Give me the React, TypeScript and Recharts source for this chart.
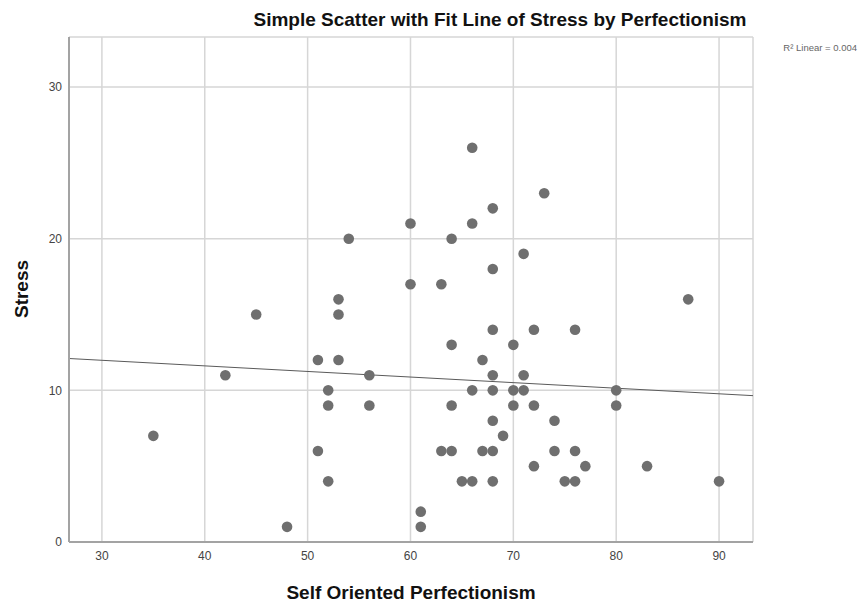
import React from 'react';
import { ScatterChart, Scatter, XAxis, YAxis, CartesianGrid, ReferenceLine } from 'recharts';

const perfectionism = [35, 42, 45, 48, 51, 51, 52, 52, 52, 53, 53, 53, 54, 56, 56, 60, 60, 61, 61, 63, 63, 64, 64, 64, 64, 65, 66, 66, 66, 66, 67, 67, 68, 68, 68, 68, 68, 68, 68, 68, 69, 70, 70, 70, 71, 71, 71, 72, 72, 72, 73, 74, 74, 75, 76, 76, 76, 77, 80, 80, 83, 87, 90];
const stress = [7, 11, 15, 1, 12, 6, 10, 9, 4, 16, 15, 12, 20, 11, 9, 21, 17, 2, 1, 17, 6, 20, 13, 9, 6, 4, 26, 21, 10, 4, 12, 6, 22, 18, 14, 11, 10, 8, 6, 4, 7, 13, 10, 9, 19, 11, 10, 14, 9, 5, 23, 8, 6, 4, 14, 6, 4, 5, 10, 9, 5, 16, 4];

const xTicks = [30, 40, 50, 60, 70, 80, 90];
const yTicks = [0, 10, 20, 30];
const xDomain = [26.8, 93.3];
const yDomain = [0, 33.3];
const fitX = [26.8, 93.3];
const fitY = [12.1, 9.65];

const title = 'Simple Scatter with Fit Line of Stress by Perfectionism';
const xLabel = 'Self Oriented Perfectionism';
const yLabel = 'Stress';
const r2Label = 'R\u00B2 Linear = 0.004';

const data = perfectionism.map((x, i) => ({ x, y: stress[i] }));

const FONT = '"Liberation Sans", Arial, sans-serif';

const Dot = (props: any) => {
  const { cx, cy } = props;
  if (cx == null || cy == null) return null;
  return <circle cx={cx} cy={cy} r={5.3} fill="#6f6f6f" />;
};

export default function App() {
  return (
    <div style={{ position: 'absolute', left: 0, top: 0, width: 859, height: 603, background: '#fff' }}>
      <ScatterChart width={859} height={603} margin={{ top: 37, right: 106, bottom: 0, left: 0 }}>
        <CartesianGrid stroke="#d6d6d6" strokeWidth={1.5} />
        <XAxis
          type="number"
          dataKey="x"
          domain={xDomain}
          ticks={xTicks}
          allowDataOverflow
          height={61}
          tickSize={0}
          tickMargin={9}
          tickLine={false}
          axisLine={{ stroke: '#a3a3a3', strokeWidth: 2 }}
          tick={{ fill: '#444', fontSize: 12, fontFamily: FONT }}
        />
        <YAxis
          type="number"
          dataKey="y"
          domain={yDomain}
          ticks={yTicks}
          allowDataOverflow
          width={69}
          tickSize={0}
          tickMargin={7}
          tickLine={false}
          axisLine={{ stroke: '#a3a3a3', strokeWidth: 2 }}
          tick={{ fill: '#444', fontSize: 12, fontFamily: FONT }}
        />
        <ReferenceLine
          segment={[{ x: fitX[0], y: fitY[0] }, { x: fitX[1], y: fitY[1] }]}
          stroke="#5a5a5a"
          strokeWidth={1}
          ifOverflow="visible"
        />
        <Scatter data={data} shape={Dot} isAnimationActive={false} />
      </ScatterChart>
      <svg width={859} height={603} style={{ position: 'absolute', left: 0, top: 0, pointerEvents: 'none' }}>
        <text x={500} y={26} textAnchor="middle" fontFamily={FONT} fontWeight="bold" fontSize={19} fill="#111">{title}</text>
        <text x={857} y={51} textAnchor="end" fontFamily={FONT} fontSize={9.5} fill="#666">{r2Label}</text>
        <text x={411} y={599} textAnchor="middle" fontFamily={FONT} fontWeight="bold" fontSize={19} fill="#111">{xLabel}</text>
        <text x={0} y={0} transform="translate(28,289) rotate(-90)" textAnchor="middle" fontFamily={FONT} fontWeight="bold" fontSize={19} fill="#111">{yLabel}</text>
      </svg>
    </div>
  );
}
